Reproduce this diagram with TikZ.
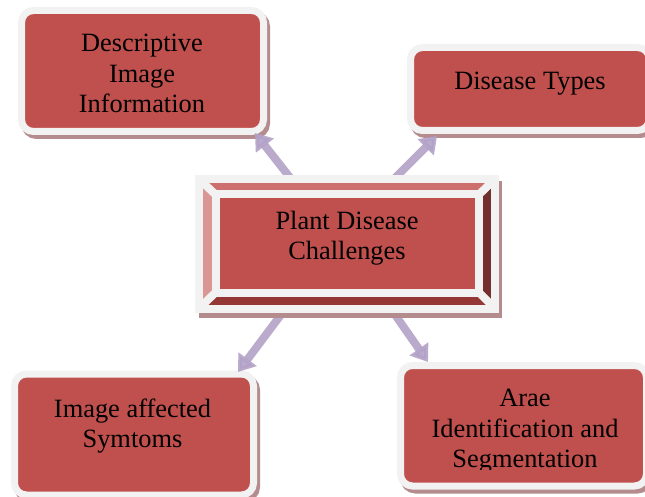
\documentclass[tikz,border=0pt]{standalone}
\usepackage{fontspec}
\setmainfont{Liberation Serif}
\usetikzlibrary{arrows.meta,calc}
\definecolor{boxred}{HTML}{C0504D}
\definecolor{framec}{HTML}{F2F2F2}
\definecolor{shadowc}{HTML}{B48C8E}
\definecolor{arrowc}{HTML}{B2A1C7}
\definecolor{bevtop}{HTML}{CD6F6C}
\definecolor{bevleft}{HTML}{D99694}
\definecolor{bevright}{HTML}{732F2E}
\definecolor{bevbot}{HTML}{953735}
\begin{document}
\begin{tikzpicture}[x=1pt,y=-1pt,
  rbox/.style={rectangle, rounded corners=12pt, draw=framec, line width=7pt, fill=boxred,
    inner sep=0pt, outer sep=0pt,
    preaction={draw=shadowc, fill=shadowc, line width=7pt, transform canvas={shift={(3pt,-4pt)}}}},
  lbl/.style={align=center, font=\fontsize{26.4}{30.5}\selectfont, inner sep=0pt, text=black},
  arr/.style={draw=arrowc, line width=8pt, opacity=0.9, -{Triangle[width=22pt,length=16pt]}},
  bevframe/.style={draw=framec, line width=8pt, line join=miter},
]
\useasboundingbox (0,0) rectangle (645,497);
\clip (0,0) rectangle (645,497);

% centre box frame (invisible node used for geometry)
\node[rectangle, minimum width=296pt, minimum height=129.5pt, inner sep=0pt, outer sep=0pt] (c) at (347,243.75) {};

% outer boxes
\node[rbox, minimum width=242pt, minimum height=121pt] (tl) at (142.5,71) {};
\node[rbox, minimum width=239pt, minimum height=83pt] (tr) at (530,89) {};
\node[rbox, minimum width=239pt, minimum height=121pt] (bl) at (134,434.5) {};
\node[rbox, minimum width=246pt, minimum height=120.5pt] (br) at (523.5,425.75) {};

% labels of outer boxes
\node[lbl] (tlt) at (142,73.5) {Descriptive\\Image\\Information};
\node[lbl] (trt) at (530,83.9) {Disease Types};
\node[lbl] (blt) at (132.5,426.3) {Image affected\\Symtoms};
\begin{scope}
\clip (0,0) rectangle (645,469);
\node[lbl] (brt) at (525,431.5) {Arae\\Identification and\\Segmentation};
\end{scope}

% arrows
\draw[arr] ($(c)+(-42.5,-47.75)$) -- ($(tl.south east)+(-8.5,1.5)$);
\draw[arr] ($(c)+(36,-53.75)$) -- ($(tr.south west)+(26.5,5.5)$);
\draw[arr] ($(c)+(-49,48.25)$) -- ($(bl.north east)+(-15.5,-2)$);
\draw[arr] ($(c)+(35,52.25)$) -- ($(br.north west)+(27.5,-3.5)$);

% centre bevel box
\fill[shadowc] ($(c.north west)+(0,2)$) rectangle ($(c.south east)+(7,9.5)$);
\coordinate (o1) at (c.north west);
\coordinate (o2) at (c.north east);
\coordinate (o3) at (c.south east);
\coordinate (o4) at (c.south west);
\coordinate (i1) at ($(c.north west)+(16.5,15.5)$);
\coordinate (i2) at ($(c.north east)+(-16,15.5)$);
\coordinate (i3) at ($(c.south east)+(-16,-16)$);
\coordinate (i4) at ($(c.south west)+(16.5,-16)$);
\fill[bevtop] (o1) -- (o2) -- (i2) -- (i1) -- cycle;
\fill[bevright] (o2) -- (o3) -- (i3) -- (i2) -- cycle;
\fill[bevbot] (o3) -- (o4) -- (i4) -- (i3) -- cycle;
\fill[bevleft] (o4) -- (o1) -- (i1) -- (i4) -- cycle;
\fill[boxred] (i1) -- (i2) -- (i3) -- (i4) -- cycle;
\draw[bevframe] (o1) -- (o2) -- (o3) -- (o4) -- cycle;
\draw[bevframe] (i1) -- (i2) -- (i3) -- (i4) -- cycle;
\draw[bevframe] (o1) -- (i1) (o2) -- (i2) (o3) -- (i3) (o4) -- (i4);
\node[lbl] (ct) at (347,238.4) {Plant Disease\\Challenges};
\end{tikzpicture}
\end{document}
